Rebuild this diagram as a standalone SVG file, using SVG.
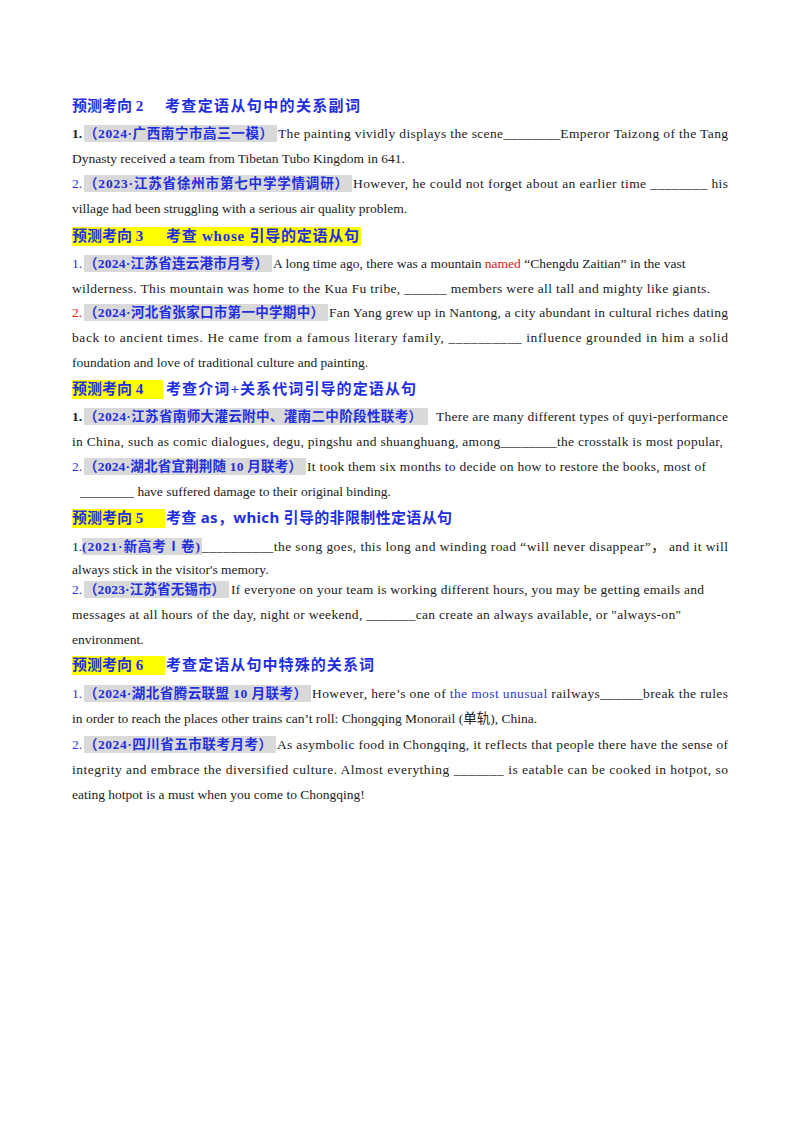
<svg xmlns="http://www.w3.org/2000/svg" width="800" height="1132" viewBox="0 0 800 1132">
<style>
text{font-family:"Liberation Serif","Noto Sans CJK SC",serif;font-size:13.5px;fill:#222}
.h{font-size:15px;font-weight:bold;fill:#1f2fe0}
.hs{font-family:"Noto Sans","Noto Sans CJK SC",sans-serif;font-weight:bold}
.lb{font-size:13.5px;font-weight:bold;fill:#1f2fe0}
.n{fill:#2a3ad0}
.r{fill:#e02020}
.k{font-weight:bold;fill:#222}
.box{fill:#d9d9d9}
.y{fill:#ffff00}
</style>
<rect width="800" height="1132" fill="#fff"/>
<g id="s2">
<text class="h" x="72" y="111">预测考向 2</text><text class="h" x="165" y="111" textLength="195">考查定语从句中的关系副词</text>
<rect class="box" x="84" y="125" width="193" height="17"/>
<text class="k" x="72" y="138">1.</text><text class="lb" x="84" y="138" textLength="189">（2024·广西南宁市高三一模）</text>
<text x="278" y="138" textLength="450" lengthAdjust="spacing">The painting  vividly displays the scene<tspan>________</tspan>Emperor Taizong of the Tang</text>
<text x="72" y="163">Dynasty received a team from Tibetan Tubo Kingdom in 641.</text>
<rect class="box" x="84" y="175" width="268" height="17"/>
<text class="n" x="72" y="188">2.</text><text class="lb" x="84" y="188" textLength="264">（2023·江苏省徐州市第七中学学情调研）</text>
<text x="353" y="188" textLength="375" lengthAdjust="spacing">However, he could not forget about an earlier time  ________  his</text>
<text x="72" y="213">village had been struggling with a serious air quality problem.</text>
</g>
<g id="s3">
<rect class="y" x="72" y="227" width="289" height="19"/>
<text class="h" x="72" y="241">预测考向 3</text><text class="h" x="166" y="241" textLength="193">考查 whose 引导的定语从句</text>
<rect class="box" x="84" y="255" width="188" height="17"/>
<text class="n" x="72" y="268">1.</text><text class="lb" x="84" y="268" textLength="184">（2024·江苏省连云港市月考）</text>
<text x="273" y="268">A long time ago, there was a mountain  <tspan class="r">named</tspan>  “Chengdu Zaitian” in the vast</text>
<text x="72" y="293" textLength="638" lengthAdjust="spacing">wilderness. This mountain was home to the Kua Fu tribe,  ______  members were all tall and mighty like giants.</text>
<rect class="box" x="84" y="304" width="244" height="17"/>
<text class="r" x="72" y="317">2.</text><text class="lb" x="84" y="317" textLength="240">（2024·河北省张家口市第一中学期中）</text>
<text x="329" y="317" textLength="399" lengthAdjust="spacing">Fan Yang grew  up in Nantong, a city abundant in cultural riches dating</text>
<text x="72" y="342" textLength="656" lengthAdjust="spacing">back to ancient times. He came from a famous literary family,  __________  influence grounded in him a solid</text>
<text x="72" y="367">foundation and love of traditional culture and painting.</text>
</g>
<g id="s4">
<rect class="y" x="72" y="380" width="91" height="19"/>
<text class="h" x="72" y="394">预测考向 4</text><text class="h" x="166" y="394" textLength="250">考查介词+关系代词引导的定语从句</text>
<rect class="box" x="84" y="408" width="344" height="17"/>
<text class="k" x="72" y="421">1.</text><text class="lb" x="84" y="421" textLength="338">（2024·江苏省南师大灌云附中、灌南二中阶段性联考）</text>
<text x="436" y="421" textLength="292" lengthAdjust="spacing">There are many different types of quyi-performance</text>
<text x="72" y="446" textLength="651" lengthAdjust="spacing">in China, such as comic dialogues, degu, pingshu and shuanghuang, among________the crosstalk is most popular,</text>
<rect class="box" x="84" y="458" width="222" height="17"/>
<text class="n" x="72" y="471">2.</text><text class="lb" x="84" y="471" textLength="218">（2024·湖北省宜荆荆随 10 月联考）</text>
<text x="307" y="471" textLength="399" lengthAdjust="spacing">It took them six months to decide on how to restore the books, most of</text>
<text x="80" y="496">________  have suffered damage to their original binding.</text>
</g>
<g id="s5">
<rect class="y" x="72" y="509" width="93" height="19"/>
<text class="h" x="72" y="523">预测考向 5</text><text class="h" x="166" y="523" textLength="286">考查 <tspan class="hs">as，which</tspan> 引导的非限制性定语从句</text>
<rect class="box" x="82" y="538" width="120" height="17"/>
<text class="k" x="72" y="551" style="font-weight:normal">1.</text><text class="lb" x="82" y="551" textLength="118">(2021·新高考Ⅰ卷)</text>
<text x="202" y="551" textLength="526" lengthAdjust="spacing">__________the song goes, this long and winding road “will never disappear”，    and it will</text>
<text x="72" y="574">always stick in the visitor's memory.</text>
<rect class="box" x="84" y="581" width="145" height="17"/>
<text class="n" x="72" y="594">2.</text><text class="lb" x="84" y="594" textLength="141">（2023·江苏省无锡市）</text>
<text x="231" y="594" textLength="473" lengthAdjust="spacing">If everyone on your team is working different hours, you may be getting emails and</text>
<text x="72" y="619" textLength="609" lengthAdjust="spacing">messages at all hours of the day, night or weekend,  _______can create an always available, or "always-on"</text>
<text x="72" y="644">environment.</text>
</g>
<g id="s6">
<rect class="y" x="72" y="656" width="93" height="19"/>
<text class="h" x="72" y="670">预测考向 6</text><text class="h" x="166" y="670" textLength="208">考查定语从句中特殊的关系词</text>
<rect class="box" x="84" y="685" width="227" height="17"/>
<text class="n" x="72" y="698">1.</text><text class="lb" x="84" y="698" textLength="223">（2024·湖北省腾云联盟 10 月联考）</text>
<text x="312" y="698" textLength="416" lengthAdjust="spacing">However, here’s one of  <tspan fill="#2a3ad0">the most unusual</tspan>  railways______break the rules</text>
<text x="72" y="723">in order to reach the places other trains can’t roll: Chongqing Monorail (单轨), China.</text>
<rect class="box" x="84" y="736" width="192" height="17"/>
<text class="n" x="72" y="749">2.</text><text class="lb" x="84" y="749" textLength="188">（2024·四川省五市联考月考）</text>
<text x="277" y="749" textLength="451" lengthAdjust="spacing">As asymbolic  food in Chongqing, it reflects that people there have the sense of</text>
<text x="72" y="774" textLength="656" lengthAdjust="spacing">integrity and embrace the diversified culture. Almost everything  _______  is eatable can be cooked in hotpot, so</text>
<text x="72" y="799">eating hotpot is a must when you come to Chongqing!</text>
</g>
</svg>
